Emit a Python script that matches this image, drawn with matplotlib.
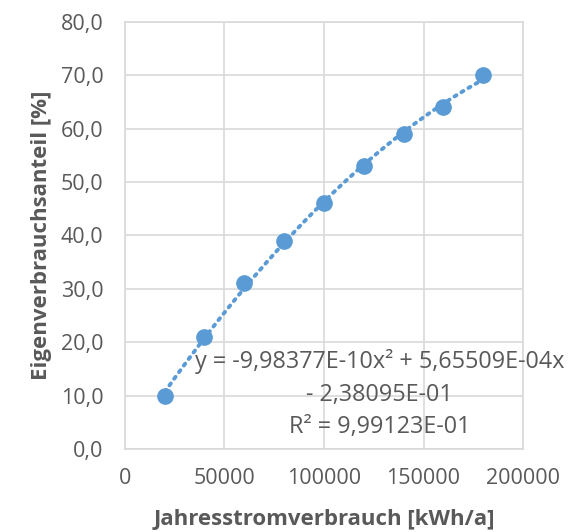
import numpy as np
import matplotlib.pyplot as plt

plt.rcParams['font.family'] = ['Open Sans', 'DejaVu Sans']

verbrauch = [20000, 40000, 60000, 80000, 100000, 120000, 140000, 160000, 180000]
anteil = [10, 21, 31, 39, 46, 53, 59, 64, 70]

# polynomial trendline (order 2)
coef = [-9.98377e-10, 5.65509e-04, -2.38095e-01]
r2 = 9.99123e-01

blue = '#5B9BD5'
grey = '#595959'
grid = '#D9D9D9'

fig = plt.figure(figsize=(5.78, 5.32), dpi=100)
ax = fig.add_axes([0.216, 0.156, 0.689, 0.803])

xs = np.linspace(verbrauch[0], verbrauch[-1], 200)
ax.plot(xs, np.polyval(coef, xs), linestyle=(0, (0.6, 1.5)), color=blue,
        linewidth=2.8, dash_capstyle='round', zorder=2)
ax.plot(verbrauch, anteil, 'o', color=blue, markersize=11, zorder=3)

ax.set_xlim(0, 200000)
ax.set_ylim(0, 80)
ax.set_xticks(np.arange(0, 200001, 50000))
ax.set_yticks(np.arange(0, 81, 10))
ax.set_yticklabels([f'{v:.1f}'.replace('.', ',') for v in range(0, 81, 10)])
ax.grid(True, color=grid, linewidth=1.2, zorder=0)
ax.set_axisbelow(True)
for s in ax.spines.values():
    s.set_color(grid)
    s.set_linewidth(1.2)
ax.tick_params(length=0, labelsize=15.5, colors=grey)
ax.tick_params(axis='y', pad=15.5)
ax.tick_params(axis='x', pad=14)

ax.set_xlabel('Jahresstromverbrauch [kWh/a]', fontsize=16, fontweight='bold',
              color=grey)
ax.set_ylabel('Eigenverbrauchsanteil [%]', fontsize=16, fontweight='bold',
              color=grey)
ax.xaxis.set_label_coords(0.5, -0.14)
ax.yaxis.set_label_coords(-0.183, 0.5)

def fmt(v):
    return f'{v:.5E}'.replace('.', ',')

eq = (f'y = {fmt(coef[0])}x² + {fmt(coef[1])}x\n'
      f'- {fmt(-coef[2])}\nR² = {fmt(r2)}')
ax.text(128000, 10.3, eq, ha='center', va='center', fontsize=16.8, color=grey,
        linespacing=1.45, zorder=4)

fig.savefig('out.png')
